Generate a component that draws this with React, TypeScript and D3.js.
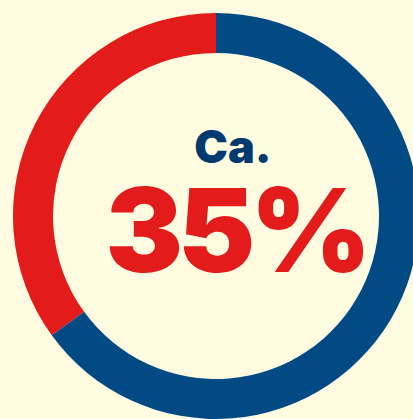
import React from "react";
import * as d3 from "d3";

const categories = ["Anteil", "Rest"];
const values = [35, 65];
const colors = ["#e31b1b", "#024a84"];
const labelTop = "Ca.";
const labelMain = "35%";

export default function App() {
  const W = 413, H = 419;
  const cx = 216, cy = 216;
  const start = -2 * Math.PI * values[0] / 100;
  const pie = d3.pie<number>().sort(null).startAngle(start).endAngle(start + 2 * Math.PI);
  const arcs = pie(values);
  const arc = d3.arc<d3.PieArcDatum<number>>().innerRadius(163).outerRadius(203);
  return (
    <svg width={W} height={H} style={{ position: "absolute", left: 0, top: 0, background: "#fefbe0" }}>
      <rect width={W} height={H} fill="#fefbe0" />
      <g transform={`translate(${cx},${cy})`}>
        {arcs.map((a, i) => (
          <path key={categories[i]} d={arc(a) || ""} fill={colors[i]} />
        ))}
      </g>
      <text x={233} y={163} textAnchor="middle" fontFamily="Inter, 'Liberation Sans', sans-serif" fontWeight={900} fontSize={45} fill="#003a6e">{labelTop}</text>
      <text x={236} y={272} textAnchor="middle" fontFamily="Inter, 'Liberation Sans', sans-serif" fontWeight={900} fontSize={116} letterSpacing={-5} fill="#e31b1b">{labelMain}</text>
    </svg>
  );
}
